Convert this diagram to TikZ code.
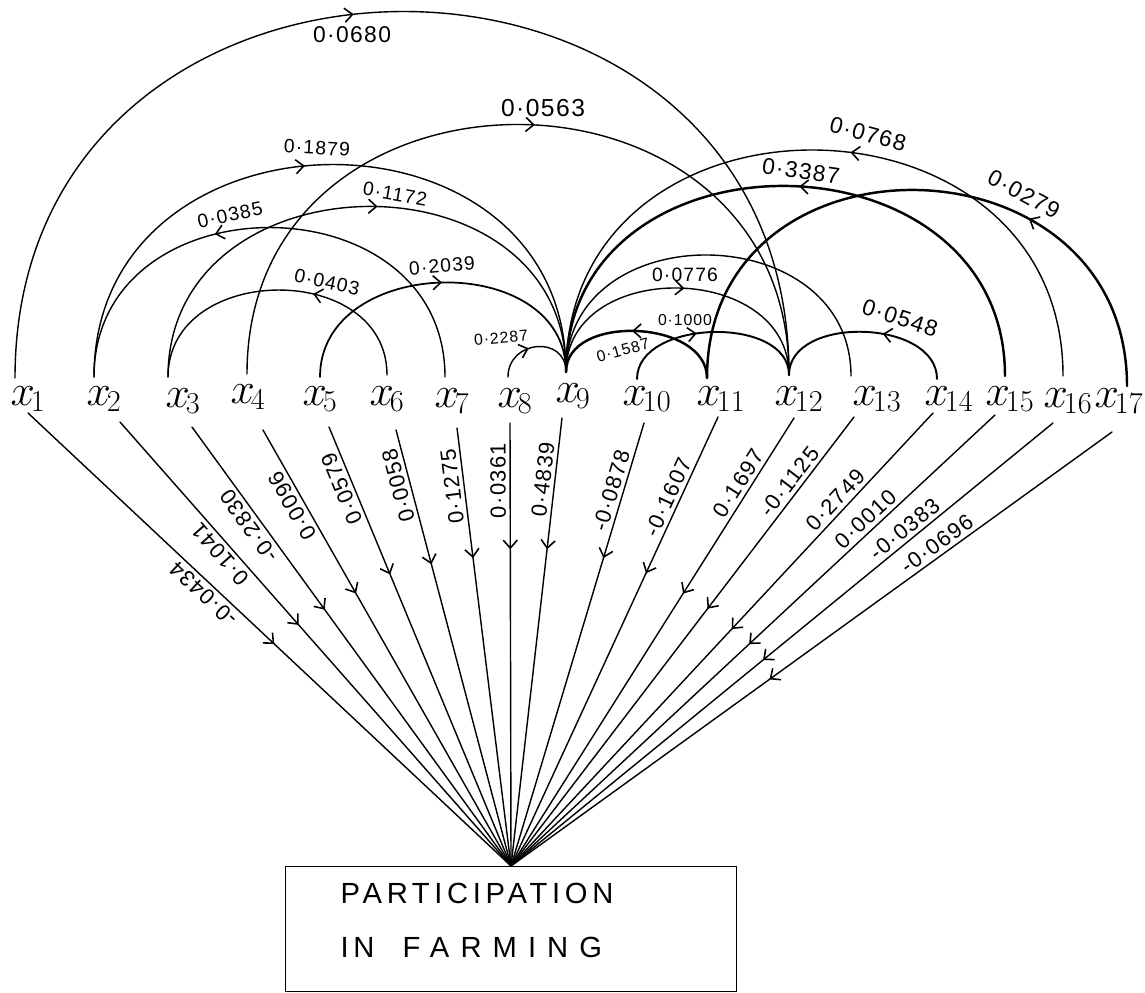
\documentclass[tikz,border=0pt]{standalone}
\usepackage{fontspec}
\setmainfont{Liberation Sans}
\newfontfamily\numfont[LetterSpace=6]{Liberation Sans}
\newfontfamily\boxfontA[LetterSpace=16]{Liberation Sans}
\newfontfamily\boxfontB[LetterSpace=38]{Liberation Sans}
\usetikzlibrary{arrows.meta,decorations.markings}
\newcommand{\xv}[1]{$x_{\mkern-2mu\scriptscriptstyle #1}$}
\begin{document}
\begin{tikzpicture}[x=0.02cm,y=0.02cm,line width=0.8pt,line cap=round,
  >={Straight Barb[length=4.5pt,width=8pt,line width=0.9pt]},
  arr/.style={postaction={decorate},decoration={markings,mark=at position #1 with {\arrow{>}}}},
  thk/.style={line width=1.4pt},
  xlab/.style={anchor=base west,inner sep=0pt,font=\Huge},
  lab/.style={inner sep=1pt,font=\numfont\fontsize{11}{13}\selectfont},
  labbig/.style={inner sep=1pt,font=\numfont\fontsize{13}{15}\selectfont},
  labsmall/.style={inner sep=1pt,font=\numfont\fontsize{9}{11}\selectfont},
  flab/.style={sloped,allow upside down,above,inner sep=2pt,font=\numfont\fontsize{12.5}{14}\selectfont}]
\useasboundingbox (0,0) rectangle (1145,-993);

% arc end points
\coordinate (a1) at (15,-378);
\coordinate (a2) at (94,-377);
\coordinate (a3) at (168,-377);
\coordinate (a4) at (247,-374);
\coordinate (a5) at (320,-377);
\coordinate (a6) at (387,-375);
\coordinate (a7) at (445,-377);
\coordinate (a8) at (508,-377);
\coordinate (a9) at (566,-372);
\coordinate (a10) at (637,-379);
\coordinate (a11) at (707,-378);
\coordinate (a12) at (789,-375);
\coordinate (a13) at (851,-376);
\coordinate (a14) at (937,-379);
\coordinate (a15) at (1005,-376);
\coordinate (a16) at (1063,-376);
\coordinate (a17) at (1127,-386);
% fan line start points
\coordinate (b1) at (28,-413);
\coordinate (b2) at (120,-422);
\coordinate (b3) at (192,-427);
\coordinate (b4) at (263,-430);
\coordinate (b5) at (329,-427);
\coordinate (b6) at (396,-430);
\coordinate (b7) at (457,-428);
\coordinate (b8) at (510,-423);
\coordinate (b9) at (562,-418);
\coordinate (b10) at (644,-423);
\coordinate (b11) at (718,-417);
\coordinate (b12) at (794,-418);
\coordinate (b13) at (854,-417);
\coordinate (b14) at (933,-413);
\coordinate (b15) at (995,-415);
\coordinate (b16) at (1053,-423);
\coordinate (b17) at (1112,-432);

% variable labels
\node[xlab] (x1) at (10,-405) {\xv{1}};
\node[xlab] (x2) at (86,-405) {\xv{2}};
\node[xlab] (x3) at (165,-407) {\xv{3}};
\node[xlab] (x4) at (230,-403) {\xv{4}};
\node[xlab] (x5) at (302,-405) {\xv{5}};
\node[xlab] (x6) at (369,-405) {\xv{6}};
\node[xlab] (x7) at (434,-407) {\xv{7}};
\node[xlab] (x8) at (497,-407) {\xv{8}};
\node[xlab] (x9) at (555,-402) {\xv{9}};
\node[xlab] (x10) at (622,-405) {\xv{10}};
\node[xlab] (x11) at (696,-405) {\xv{11}};
\node[xlab] (x12) at (774,-405) {\xv{12}};
\node[xlab] (x13) at (852,-405) {\xv{13}};
\node[xlab] (x14) at (924,-405) {\xv{14}};
\node[xlab] (x15) at (985,-405) {\xv{15}};
\node[xlab] (x16) at (1043,-407) {\xv{16}};
\node[xlab] (x17) at (1094,-407) {\xv{17}};

% dependent variable box
\node[draw,line width=0.8pt,minimum width=9.02cm,minimum height=2.5cm,anchor=north,inner sep=0pt] (box) at (511,-866) {};
\node[anchor=base west,inner sep=0pt,font=\boxfontA\fontsize{16.6}{20}\selectfont] (t1) at (340,-903) {PARTICIPATION};
\node[anchor=base west,inner sep=0pt,font=\boxfontA\fontsize{16.6}{20}\selectfont] (t2) at (340,-957) {IN};
\node[anchor=base west,inner sep=0pt,font=\boxfontB\fontsize{16.6}{20}\selectfont] (t3) at (402,-957) {FARMING};

% arcs (correlations)
\draw[arr=0.46] (a1) to[out=90,in=90,looseness=1.606] (a12);
\draw[arr=0.52] (a4) to[out=90,in=90,looseness=1.571] (a12);
\draw[arr=0.466] (a2) to[out=90,in=90,looseness=1.515] (a9);
\draw[arr=0.52] (a3) to[out=90,in=90,looseness=1.438] (a9);
\draw[arr=0.607] (a7) to[out=90,in=90,looseness=1.456] (a2);
\draw[arr=0.383] (a6) to[out=90,in=90,looseness=1.337] (a3);
\draw[arr=0.5,line width=1pt] (a5) to[out=90,in=90,looseness=1.274] (a9);
\draw[arr=0.42] (a8) to[out=90,in=90,looseness=1.64] (a9);
\draw[arr=0.453] (a16) to[out=90,in=90,looseness=1.535] (a9);
\draw[arr=0.48,thk] (a15) to[out=90,in=90,looseness=1.459] (a9);
\draw[arr=0.32,thk] (a17) to[out=90,in=90,looseness=1.557] (a11);
\draw[arr=0.52] (a9) to[out=90,in=90,looseness=1.306] (a12);
\draw (a9) to[out=90,in=90,looseness=1.422] (a13);
\draw[arr=0.42,line width=1.1pt] (a10) to[out=90,in=90,looseness=1.008] (a12);
\draw[arr=0.53,thk] (a11) to[out=90,in=90,looseness=1.063] (a9);
\draw[arr=0.4,line width=1.1pt] (a14) to[out=90,in=90,looseness=1.04] (a12);

% arc labels
\node[labbig] (l0680) at (352,-35) {0·0680};
\node[labbig,font=\numfont\fontsize{14}{16}\selectfont] (l0563) at (543,-108) {0·0563};
\node[lab,rotate=-3] (l1879) at (317,-148) {0·1879};
\node[lab,rotate=-10] (l1172) at (395,-194) {0·1172};
\node[lab,rotate=12] (l0385) at (230,-215) {0·0385};
\node[lab,rotate=-12] (l0403) at (327,-282) {0·0403};
\node[lab,rotate=5] (l2039) at (442,-266) {0·2039};
\node[labsmall,rotate=5] (l2287) at (501,-338) {0·2287};
\node[labbig,rotate=-15] (l0768) at (868,-134) {0·0768};
\node[labbig,rotate=-8] (l3387) at (801,-171) {0·3387};
\node[labbig,rotate=-28] (l0279) at (1024,-194) {0·0279};
\node[lab] (l0776) at (685,-275) {0·0776};
\node[labsmall] (l1000) at (685,-320) {0·1000};
\node[labsmall,rotate=15] (l1587) at (623,-350) {0·1587};
\node[labbig,rotate=-18] (l0548) at (900,-318) {0·0548};

% paths to dependent variable
\draw[arr=0.51] (b1) -- (box.north);
\draw[arr=0.457] (b2) -- (box.north);
\draw[arr=0.416] (b3) -- (box.north);
\draw[arr=0.375] (b4) -- (box.north);
\draw[arr=0.336] (b5) -- (box.north);
\draw[arr=0.308] (b6) -- (box.north);
\draw[arr=0.297] (b7) -- (box.north);
\draw[arr=0.285] (b8) -- (box.north);
\draw[arr=0.293] (b9) -- (box.north);
\draw[arr=0.305] (b10) -- (box.north);
\draw[arr=0.348] (b11) -- (box.north);
\draw[arr=0.392] (b12) -- (box.north);
\draw[arr=0.427] (b13) -- (box.north);
\draw[arr=0.477] (b14) -- (box.north);
\draw[arr=0.508] (b15) -- (box.north);
\draw[arr=0.535] (b16) -- (box.north);
\draw[arr=0.57] (b17) -- (box.north);

% path coefficients
\path (box.north) -- (b1) node[flab,pos=0.62] (p1) {-0·0434};
\path (box.north) -- (b2) node[flab,pos=0.72] (p2) {0·1041};
\path (box.north) -- (b3) node[flab,pos=0.79] (p3) {-0·2830};
\path (box.north) -- (b4) node[flab,pos=0.84] (p4) {0·0096};
\path (box.north) -- (b5) node[flab,pos=0.87] (p5) {0·0579};
\path (box.north) -- (b6) node[flab,pos=0.88] (p6) {0·0058};
\path (box.north) -- (b7) node[flab,pos=0.87] (p7) {0·1275};
\path (box.north) -- (b8) node[flab,pos=0.87] (p8) {0·0361};
\path (box.north) -- (b9) node[flab,pos=0.86] (p9) {0·4839};
\path (box.north) -- (b10) node[flab,pos=0.84] (p10) {-0·0878};
\path (box.north) -- (b11) node[flab,pos=0.81] (p11) {-0·1607};
\path (box.north) -- (b12) node[flab,pos=0.84] (p12) {0·1697};
\path (box.north) -- (b13) node[flab,pos=0.84] (p13) {-0·1125};
\path (box.north) -- (b14) node[flab,pos=0.79] (p14) {0·2749};
\path (box.north) -- (b15) node[flab,pos=0.75] (p15) {0·0010};
\path (box.north) -- (b16) node[flab,pos=0.74] (p16) {-0·0383};
\path (box.north) -- (b17) node[flab,pos=0.72] (p17) {-0·0696};
\end{tikzpicture}
\end{document}
